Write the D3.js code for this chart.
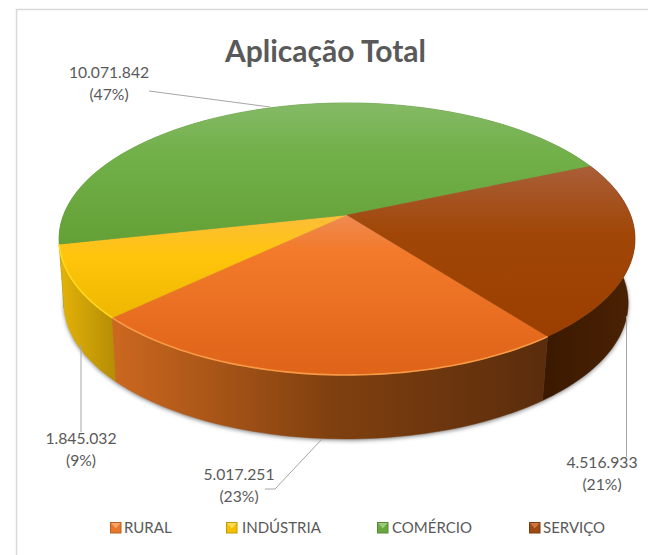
<!DOCTYPE html>
<html><head><meta charset="utf-8">
<script src="https://cdn.jsdelivr.net/npm/d3@7"></script>
<style>html,body{margin:0;background:#fff}svg{display:block}text{font-family:Lato,"Open Sans",sans-serif;fill:#595959}</style>
</head><body><svg id="c" width="648" height="555"></svg>
<script>
const categories = ["RURAL","INDÚSTRIA","COMÉRCIO","SERVIÇO"];
const values = [5017251,1845032,10071842,4516933];
const valueLabels = ["5.017.251","1.845.032","10.071.842","4.516.933"];
const pctLabels = ["(23%)","(9%)","(47%)","(21%)"];
const title = "Aplicação Total";

// style / layout (not data)
const topStops = [
 [[0,"#ee8b52"],[.22,"#f37a2b"],[1,"#df6318"]],
 [[0,"#fcbe3a"],[.4,"#ffc50c"],[1,"#efb700"]],
 [[0,"#84ba66"],[.35,"#72b04a"],[1,"#63a136"]],
 [[0,"#aa5e38"],[.4,"#a04606"],[1,"#9b3f00"]]];
const sideStops = [
 [[0,"#cb671f"],[.5,"#80400f"],[1,"#5b2d0d"]],
 [[0,"#e0b008"],[1,"#b58c04"]],
 [[0,"#4e7c2d"],[1,"#4e7c2d"]],
 [[0,"#3a1900"],[1,"#4a2103"]]];
const labelPos = [[239,475],[81,439],[109,73],[602,463]];
const leaders = [[[322,439],[275,489],[265,489]],[[81,345],[81,432]],[[149,91],[270,107]],[[626.5,316],[626.5,457]]];
const legendMark = [110,226,377,529], legendText = [124,242,392,543];
const legendFill = ["#e8772e","#f4c000","#6aa83f","#a04a14"];
const legendEdge = ["#b5641f","#bf9a10","#54893a","#7c3a10"];
const legendTip = ["#f6a468","#ffdc55","#9ccb7c","#cf7540"];

const svg = d3.select("#c"), defs = svg.append("defs");
const cx=347, cy=215, k=0.176, a=131.8, b=283.5, depth=64, shrink=0.98, lowShift=-1, rad=Math.PI/180;
// perspective projection of the pie's disc on to the screen
function proj(t, low){
  const u=Math.sin(t), v=-Math.cos(t), w=1-k*v;
  const x=b*u/w, y=a*v/w;
  return low ? [cx+lowShift+x*shrink, cy+y+depth] : [cx+x, cy+y];
}
const arcs = d3.pie().sort(null).startAngle(142.5*rad).endAngle(502.5*rad)(values);
const samples = d => d3.range(0,61).map(d3.scaleLinear().domain([0,60]).range([d.startAngle,d.endAngle]));
const line = d3.line();

function grad(id,stops,x1,y1,x2,y2){
  const g=defs.append("linearGradient").attr("id",id).attr("gradientUnits","userSpaceOnUse")
    .attr("x1",x1).attr("y1",y1).attr("x2",x2).attr("y2",y2);
  g.selectAll("stop").data(stops).join("stop").attr("offset",d=>d[0]).attr("stop-color",d=>d[1]);
}
arcs.forEach((d,i)=>{
  const pts=samples(d).map(t=>proj(t)).concat([[cx,cy]]);
  const low=samples(d).map(t=>proj(t,true));
  const ext=d3.extent(pts,p=>p[1]), xe=d3.extent(low,p=>p[0]);
  grad("top"+i,topStops[i],0,ext[0],0,ext[1]);
  grad("side"+i,sideStops[i],xe[0],0,xe[1],0);
});
const blur=defs.append("filter").attr("id","sh").attr("x","-10%").attr("y","-10%").attr("width","120%").attr("height","120%");
blur.append("feGaussianBlur").attr("stdDeviation",2);

// chart frame
svg.append("path").attr("d","M16.5,560V9.5H660").attr("fill","none").attr("stroke","#d9d9d9").attr("stroke-width",1.5);

// soft shadow under the body
const whole={startAngle:arcs[0].startAngle,endAngle:arcs[0].startAngle+2*Math.PI};
svg.append("path").attr("d",line(samples(whole).map(t=>{const p=proj(t,true);return [p[0],p[1]+1.5];}))+"Z")
  .attr("fill","#808080").attr("filter","url(#sh)");

// sides, back to front
[2,1,3,0].forEach(i=>{
  const d=arcs[i], up=samples(d).map(t=>proj(t)), lo=samples(d).map(t=>proj(t,true)).reverse();
  svg.append("path").attr("d",line(up.concat(lo))+"Z").attr("fill",`url(#side${i})`).attr("stroke",`url(#side${i})`).attr("stroke-width",.4);
});
// top faces
svg.append("g").selectAll("path").data(arcs).join("path")
  .attr("d",d=>line(samples(d).map(t=>proj(t)).concat([[cx,cy]]))+"Z")
  .attr("fill",(d,i)=>`url(#top${i})`).attr("stroke",(d,i)=>`url(#top${i})`).attr("stroke-width",.4);
// bevel highlight on the front rim
[["#f79a45",0],["#ffd81f",1]].forEach(([c,i])=>{
  svg.append("path").attr("d",line(samples(arcs[i]).map(t=>proj(t))))
    .attr("fill","none").attr("stroke",c).attr("stroke-width",1.6);
});

// leaders
svg.append("g").selectAll("path").data(leaders).join("path").attr("d",d=>line(d))
  .attr("fill","none").attr("stroke","#a6a6a6").attr("stroke-width",1);

// title
svg.append("text").attr("x",325.5).attr("y",62).attr("text-anchor","middle")
  .attr("font-size",30).attr("font-weight",700).text(title);

// data labels
const lab=svg.append("g").selectAll("g").data(categories).join("g");
lab.append("text").attr("x",(d,i)=>labelPos[i][0]).attr("y",(d,i)=>labelPos[i][1]+5)
  .attr("text-anchor","middle").attr("font-size",15.7).text((d,i)=>valueLabels[i]);
lab.append("text").attr("x",(d,i)=>labelPos[i][0]).attr("y",(d,i)=>labelPos[i][1]+27)
  .attr("text-anchor","middle").attr("font-size",15.7).text((d,i)=>pctLabels[i]);

// legend
const leg=svg.append("g").selectAll("g").data(categories).join("g");
leg.append("rect").attr("x",(d,i)=>legendMark[i]+.5).attr("y",522.5).attr("width",10.5).attr("height",10.5)
  .attr("fill",(d,i)=>legendFill[i]).attr("stroke",(d,i)=>legendEdge[i]).attr("stroke-width",1);
leg.append("path").attr("d",(d,i)=>{const x=legendMark[i];return line([[x+1,523],[x+10.5,523],[x+5.75,528.5]])+"Z";})
  .attr("fill",(d,i)=>legendTip[i]);
leg.append("text").attr("x",(d,i)=>legendText[i]).attr("y",533).attr("font-size",15).text(d=>d);
</script></body></html>
